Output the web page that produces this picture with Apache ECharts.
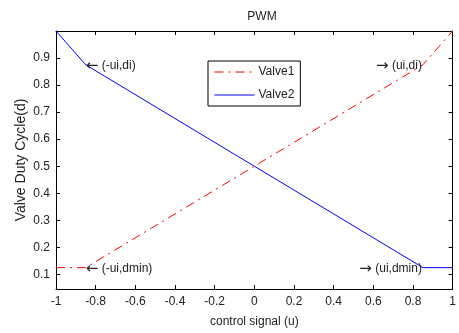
<!DOCTYPE html>
<html>
<head>
<meta charset="utf-8">
<script src="https://cdn.jsdelivr.net/npm/echarts@6/dist/echarts.min.js"></script>
<style>
  html, body { margin: 0; padding: 0; background: #fff; }
  #chart { width: 459px; height: 333px; }
</style>
</head>
<body>
<div id="chart"></div>
<script>
// Control signal breakpoints and duty cycles of the two valves
const controlSignal = [-1, -0.85, 0, 0.85, 1];
const valve1 = [0.125, 0.125, 0.5, 0.875, 1];
const valve2 = [1, 0.875, 0.5, 0.125, 0.125];
const xTicks = [-1, -0.8, -0.6, -0.4, -0.2, 0, 0.2, 0.4, 0.6, 0.8, 1];
const yTicks = [0.1, 0.2, 0.3, 0.4, 0.5, 0.6, 0.7, 0.8, 0.9];

// Operating-point annotations: [u, d, arrow, text, side]
const notes = [
  [-0.85, 0.875, '\u2190', '(-ui,di)', 'right'],
  [-0.85, 0.125, '\u2190', '(-ui,dmin)', 'right'],
  [0.85, 0.875, '\u2192', '(ui,di)', 'left'],
  [0.85, 0.125, '\u2192', '(ui,dmin)', 'left']
];

const FONT = 'Liberation Sans, Arial, sans-serif';
const INK = '#222';

const zip = (xs, ys) => xs.map((x, i) => [x, ys[i]]);

const chart = echarts.init(document.getElementById('chart'), null, { renderer: 'canvas' });

const mainAxis = {
  axisLine: { show: true, onZero: false, lineStyle: { color: '#000', width: 1 } },
  axisTick: { show: true, inside: true, length: 4, lineStyle: { color: '#000' } },
  splitLine: { show: false },
  axisLabel: { color: INK, fontSize: 12, fontFamily: FONT }
};

chart.setOption({
  animation: false,
  backgroundColor: '#fff',
  title: {
    text: 'PWM',
    left: 257, top: 6, textAlign: 'center',
    textStyle: { color: INK, fontSize: 12, fontWeight: 'normal', fontFamily: FONT }
  },
  legend: {
    left: 208, top: 61,
    orient: 'vertical',
    backgroundColor: '#fff',
    borderColor: '#000', borderWidth: 1, borderRadius: 0,
    padding: [5, 6, 5, 6],
    itemWidth: 40, itemHeight: 12, itemGap: 11,
    itemStyle: { opacity: 0 },
    lineStyle: { width: 1 },
    textStyle: { color: INK, fontSize: 12, fontFamily: FONT, padding: [0, 0, 0, -1] },
    data: ['Valve1', 'Valve2']
  },
  grid: { left: 56, right: 1, top: 31, bottom: 41, containLabel: false },
  xAxis: [
    Object.assign({}, mainAxis, {
      type: 'value', min: -1, max: 1, position: 'bottom',
      axisTick: Object.assign({}, mainAxis.axisTick, { customValues: xTicks }),
      axisLabel: Object.assign({}, mainAxis.axisLabel, { customValues: xTicks, margin: 7, showMaxLabel: true }),
      name: 'control signal (u)', nameLocation: 'middle', nameGap: 27, nameMoveOverlap: false,
      nameTextStyle: { color: INK, fontSize: 12, fontFamily: FONT }
    }),
    Object.assign({}, mainAxis, {
      type: 'value', min: -1, max: 1, position: 'top',
      axisTick: Object.assign({}, mainAxis.axisTick, { customValues: xTicks }),
      axisLabel: { show: false }
    })
  ],
  yAxis: [
    Object.assign({}, mainAxis, {
      type: 'value', min: 0.046, max: 1, position: 'left',
      axisTick: Object.assign({}, mainAxis.axisTick, { customValues: yTicks }),
      axisLabel: Object.assign({}, mainAxis.axisLabel, { customValues: yTicks, margin: 6 }),
      name: 'Valve Duty Cycle(d)', nameLocation: 'middle', nameGap: 28, nameRotate: 90,
      nameMoveOverlap: false,
      nameTextStyle: { color: INK, fontSize: 14, fontFamily: FONT }
    }),
    Object.assign({}, mainAxis, {
      type: 'value', min: 0.046, max: 1, position: 'right',
      axisTick: Object.assign({}, mainAxis.axisTick, { customValues: yTicks }),
      axisLabel: { show: false }
    })
  ],
  series: [
    {
      name: 'Valve1', type: 'line', data: zip(controlSignal, valve1),
      showSymbol: false, symbol: 'none',
      lineStyle: { color: '#ff0000', width: 1, type: [9, 5, 2, 5] },
      itemStyle: { color: '#ff0000' },
      z: 3
    },
    {
      name: 'Valve2', type: 'line', data: zip(controlSignal, valve2),
      showSymbol: false, symbol: 'none',
      lineStyle: { color: '#0000ff', width: 1 },
      itemStyle: { color: '#0000ff' },
      markPoint: {
        symbol: 'circle', symbolSize: 0, silent: true,
        data: notes.map(n => ({
          coord: [n[0], n[1]],
          label: {
            show: true,
            formatter: '{a|' + n[2] + '} ' + n[3],
            position: n[4], distance: n[4] === 'right' ? 0 : 1,
            offset: [0, 1],
            color: INK, fontSize: 12, fontFamily: FONT,
            rich: { a: { fontFamily: 'DejaVu Sans', fontSize: 15, color: INK } }
          }
        }))
      },
      z: 2
    }
  ]
});
</script>
</body>
</html>
